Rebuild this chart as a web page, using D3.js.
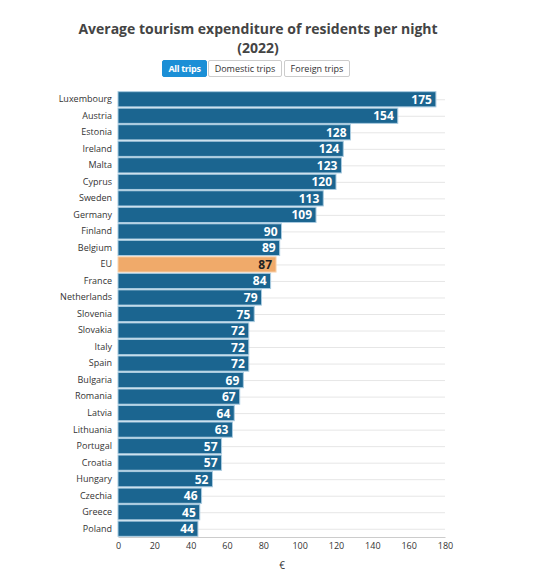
<!DOCTYPE html>
<html><head><meta charset="utf-8">
<script src="https://cdn.jsdelivr.net/npm/d3@7"></script>
<style>
body{margin:0;background:#fff;font-family:"Open Sans",sans-serif;}
</style></head><body>
<svg id="c" width="546" height="571"></svg>
<script>
const countries=["Luxembourg","Austria","Estonia","Ireland","Malta","Cyprus","Sweden","Germany","Finland","Belgium","EU","France","Netherlands","Slovenia","Slovakia","Italy","Spain","Bulgaria","Romania","Latvia","Lithuania","Portugal","Croatia","Hungary","Czechia","Greece","Poland"];
const values=[175,154,128,124,123,120,113,109,90,89,87,84,79,75,72,72,72,69,67,64,63,57,57,52,46,45,44];
const xTicks=[0,20,40,60,80,100,120,140,160,180];
const buttons=["All trips","Domestic trips","Foreign trips"];

const svg=d3.select("#c");
const x=d3.scaleLinear().domain([0,180]).range([118,445]);
const y=d3.scaleBand().domain(countries).range([91,537]).paddingInner(0.08).paddingOuter(0.04);

svg.append("text").attr("x",258).attr("y",34).attr("text-anchor","middle")
  .attr("font-size",14).attr("font-weight","bold").attr("fill","#444").text("Average tourism expenditure of residents per night");
svg.append("text").attr("x",258).attr("y",53).attr("text-anchor","middle")
  .attr("font-size",14).attr("font-weight","bold").attr("fill","#444").text("(2022)");

// buttons
const bx=[162,208,284], bw=[44,73,65];
buttons.forEach((b,i)=>{
  const g=svg.append("g");
  g.append("rect").attr("x",bx[i]+0.5).attr("y",60.5).attr("width",bw[i]).attr("height",16).attr("rx",1.5)
    .attr("fill",i===0?"#1b8fd6":"#fff").attr("stroke",i===0?"#1b8fd6":"#ccc");
  g.append("text").attr("x",bx[i]+0.5+bw[i]/2).attr("y",72).attr("text-anchor","middle")
    .attr("font-size",9).attr("font-weight",i===0?"bold":"normal").attr("fill",i===0?"#fff":"#333")
    .attr("letter-spacing",i===0?-0.3:0).text(b);
});

// gridlines
svg.append("g").selectAll("line").data(countries).join("line")
  .attr("x1",118).attr("x2",445)
  .attr("y1",d=>y(d)+y.bandwidth()/2+0.5).attr("y2",d=>y(d)+y.bandwidth()/2+0.5)
  .attr("stroke","#e6e6e6");

// bars
svg.append("g").selectAll("rect").data(countries).join("rect")
  .attr("x",x(0)).attr("y",d=>y(d)).attr("height",y.bandwidth())
  .attr("width",(d,i)=>x(values[i])-x(0))
  .attr("fill",d=>d==="EU"?"#f0aa6a":"#1b6590")
  .attr("stroke",d=>d==="EU"?"#f7d3b0":"#a9cbe0").attr("stroke-width",1);

// labels
svg.append("g").selectAll("text").data(countries).join("text")
  .attr("x",(d,i)=>x(values[i])-4).attr("y",d=>y(d)+y.bandwidth()/2+4.5)
  .attr("text-anchor","end").attr("font-size",12).attr("font-weight","bold")
  .attr("fill",d=>d==="EU"?"#222":"#fff").text((d,i)=>values[i]);

// y axis
const ya=svg.append("g").attr("transform","translate(118,0)")
  .call(d3.axisLeft(y).tickSize(0).tickPadding(6));
ya.select(".domain").remove();
ya.selectAll("text").attr("font-size",9).attr("fill","#333").attr("font-family","Open Sans");

// x axis
const xa=svg.append("g").attr("transform","translate(0,537)")
  .call(d3.axisBottom(x).tickValues(xTicks).tickSize(0).tickPadding(6));
xa.select(".domain").attr("stroke","#ccc");
xa.selectAll("text").attr("font-size",9).attr("fill","#333").attr("font-family","Open Sans");

svg.append("text").attr("x",282).attr("y",569).attr("text-anchor","middle")
  .attr("font-size",10).attr("fill","#333").text("€");
</script>
</body></html>
